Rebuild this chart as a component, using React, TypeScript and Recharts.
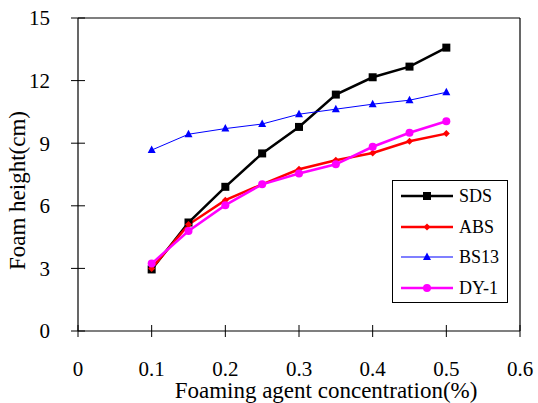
import React from "react";
import { LineChart, Line, XAxis, YAxis, Legend, ReferenceLine } from "recharts";

const concentration = [0.1, 0.15, 0.2, 0.25, 0.3, 0.35, 0.4, 0.45, 0.5];
const sdsHeight = [2.95, 5.2, 6.91, 8.51, 9.78, 11.33, 12.16, 12.67, 13.58];
const absHeight = [3.0, 5.1, 6.27, 7.03, 7.75, 8.18, 8.53, 9.09, 9.46];
const bs13Height = [8.67, 9.43, 9.7, 9.92, 10.39, 10.63, 10.87, 11.06, 11.44];
const dy1Height = [3.23, 4.79, 6.03, 7.03, 7.55, 7.99, 8.83, 9.5, 10.05];

const xTicks = [0, 0.1, 0.2, 0.3, 0.4, 0.5, 0.6];
const yTicks = [0, 3, 6, 9, 12, 15];

const FONT = "Liberation Serif";

const data = concentration.map((c, i) => ({
  c,
  SDS: sdsHeight[i],
  ABS: absHeight[i],
  BS13: bs13Height[i],
  "DY-1": dy1Height[i],
}));

type Marker = "square" | "diamond" | "triangle" | "circle";

const series: { key: string; color: string; legendColor: string; width: number; marker: Marker }[] = [
  { key: "SDS", color: "#000000", legendColor: "#000000", width: 2.5, marker: "square" },
  { key: "ABS", color: "#ff0000", legendColor: "#ff0000", width: 2.5, marker: "diamond" },
  { key: "BS13", color: "#0000ff", legendColor: "#7f7fff", width: 1, marker: "triangle" },
  { key: "DY-1", color: "#ff00ff", legendColor: "#ff00ff", width: 2.5, marker: "circle" },
];

const drawMarker = (marker: Marker, cx: number, cy: number, color: string, key?: string | number) => {
  if (marker === "square") return <rect key={key} x={cx - 4} y={cy - 4} width={8} height={8} fill={color} />;
  if (marker === "diamond")
    return <path key={key} d={`M${cx},${cy - 3.5}L${cx + 3.5},${cy}L${cx},${cy + 3.5}L${cx - 3.5},${cy}Z`} fill={color} />;
  if (marker === "triangle")
    return <path key={key} d={`M${cx},${cy - 4.5}L${cx + 4},${cy + 3}L${cx - 4},${cy + 3}Z`} fill={color} />;
  return <circle key={key} cx={cx} cy={cy} r={4} fill={color} />;
};

// ticks cross the axis line, so draw them here (label y = axis + tickSize)
const XTick = (props: any) => {
  const { x, y, payload } = props;
  const axisY = y - 6;
  return (
    <g>
      <line x1={x} x2={x} y1={axisY - 6} y2={axisY + 6} stroke="#000" />
      <text x={x} y={axisY + 38} dy="0.35em" textAnchor="middle" fontSize={21} style={{ fontFamily: FONT }} fill="#000">
        {String(payload.value)}
      </text>
    </g>
  );
};

const YTick = (props: any) => {
  const { x, y, payload } = props;
  const axisX = x + 7;
  return (
    <g>
      <line x1={axisX - 7} x2={axisX + 7} y1={y} y2={y} stroke="#000" />
      <text x={axisX - 28} y={y} dy="0.35em" textAnchor="end" fontSize={21} style={{ fontFamily: FONT }} fill="#000">
        {String(payload.value)}
      </text>
    </g>
  );
};

const YTitle = (props: any) => {
  const vb = props.viewBox || { x: 0, y: 18, width: 78, height: 313 };
  const cx = vb.x + 17;
  const cy = vb.y + vb.height / 2 + 16;
  return (
    <text x={cx} y={cy} transform={`rotate(-90 ${cx} ${cy})`} dy="0.35em" textAnchor="middle" fontSize={23} style={{ fontFamily: FONT }} fill="#000">
      Foam height(cm)
    </text>
  );
};

const XTitle = (props: any) => {
  const vb = props.viewBox || { x: 78, y: 331, width: 442, height: 72 };
  const cx = vb.x + vb.width / 2 + 27;
  const cy = vb.y + 59;
  return (
    <text x={cx} y={cy} dy="0.35em" textAnchor="middle" fontSize={23} style={{ fontFamily: FONT }} fill="#000">
      Foaming agent concentration(%)
    </text>
  );
};

const LegendBox = () => (
  <div
    style={{
      border: "1px solid #000",
      background: "#fff",
      width: 114,
      height: 121,
      boxSizing: "content-box",
      fontFamily: FONT,
      fontSize: 18,
      color: "#000",
    }}
  >
    {series.map((s) => (
      <div key={s.key} style={{ display: "flex", alignItems: "center", height: 30.5 }}>
        <svg width={66} height={14} style={{ display: "block" }}>
          <line x1={8} x2={60} y1={7} y2={7} stroke={s.legendColor} strokeWidth={s.width === 1 ? 2 : s.width} />
          {drawMarker(s.marker, 34, 7, s.color)}
        </svg>
        <span style={{ lineHeight: 1 }}>{s.key}</span>
      </div>
    ))}
  </div>
);

export default function App() {
  return (
    <div style={{ position: "absolute", left: 0, top: 0, width: 538, height: 403, background: "#fff", fontFamily: FONT }}>
      <LineChart
        width={538}
        height={403}
        data={data}
        margin={{ top: 18, right: 18, left: 0, bottom: 0 }}
      >
        <XAxis
          dataKey="c"
          type="number"
          domain={[0, 0.6]}
          ticks={xTicks}
          height={72}
          tickSize={6}
          tickMargin={0}
          tickLine={false}
          axisLine={{ stroke: "#000", strokeWidth: 1.2 }}
          tick={<XTick />}
          interval={0}
          label={<XTitle />}
        />
        <YAxis
          type="number"
          domain={[0, 15]}
          ticks={yTicks}
          width={78}
          tickSize={7}
          tickMargin={0}
          tickLine={false}
          axisLine={{ stroke: "#000", strokeWidth: 1.2 }}
          tick={<YTick />}
          interval={0}
          label={<YTitle />}
        />
        <ReferenceLine y={15} stroke="#000" strokeWidth={1.2} />
        <ReferenceLine x={0.6} stroke="#000" strokeWidth={1.2} />
        {series.map((s) => (
          <Line
            key={s.key}
            type="linear"
            dataKey={s.key}
            stroke={s.color}
            strokeWidth={s.width}
            isAnimationActive={false}
            dot={(p: any) => drawMarker(s.marker, p.cx, p.cy, s.color, `${s.key}-${p.index}`)}
            activeDot={false}
          />
        ))}
        <Legend
          layout="vertical"
          align="center"
          verticalAlign="middle"
          content={<LegendBox />}
          wrapperStyle={{ left: 392, top: 180, width: 116, height: 123 }}
        />
      </LineChart>
    </div>
  );
}
